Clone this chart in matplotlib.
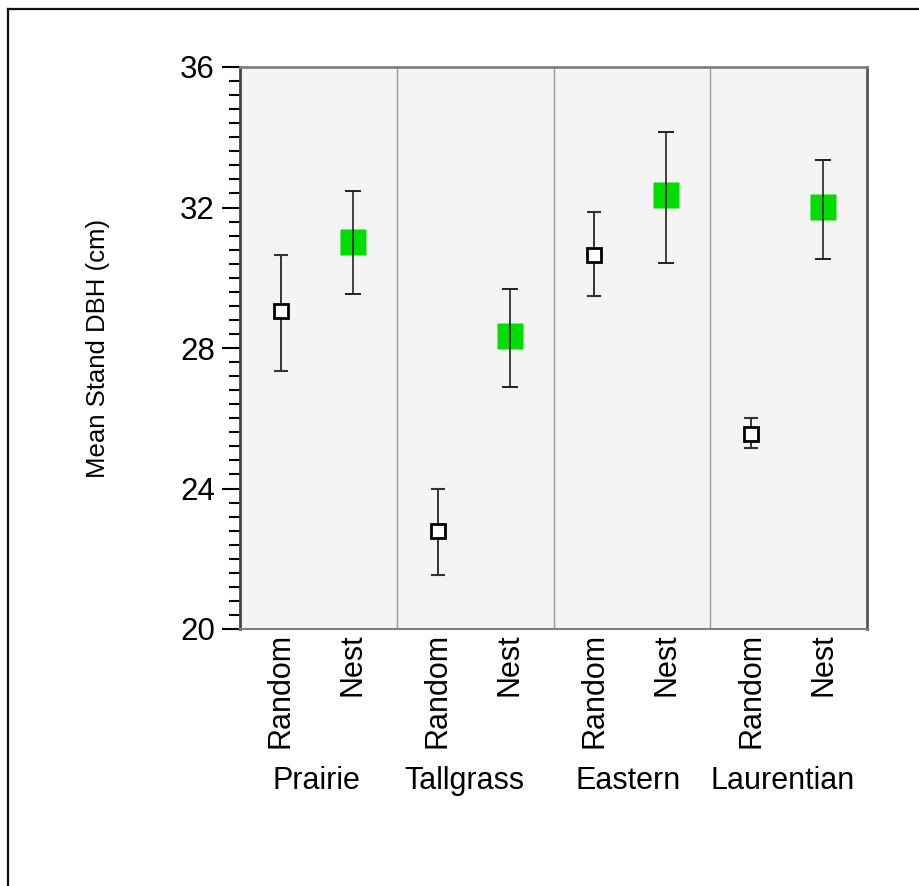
import matplotlib
matplotlib.use("Agg")
import matplotlib.pyplot as plt
from matplotlib.lines import Line2D
from matplotlib.ticker import MultipleLocator

plt.rcParams['font.family'] = ['Liberation Sans', 'DejaVu Sans']

regions = ["Prairie", "Tallgrass", "Eastern", "Laurentian"]
sample_types = ["Random", "Nest"]
random_mean = [29.05, 22.79, 30.65, 25.55]
random_upper = [30.65, 23.99, 31.87, 26.01]
random_lower = [27.35, 21.54, 29.48, 25.15]
nest_mean = [31.02, 28.34, 32.36, 32.01]
nest_upper = [32.47, 29.68, 34.15, 33.35]
nest_lower = [29.54, 26.89, 30.42, 30.53]

W, H = 919, 886
fig = plt.figure(figsize=(W / 100, H / 100), dpi=100)
ax = fig.add_axes([240 / W, 1 - 629 / H, (867 - 240) / W, (629 - 67) / H])
ax.set_facecolor("#f4f4f4")

x_rand = [i + 0.26 for i in range(4)]
x_nest = [i + 0.72 for i in range(4)]

# separators
for s in [1, 2, 3]:
    ax.axvline(s, color="#999999", lw=1, zorder=1)

# Random: error bars behind open markers
r_err = [[m - lo for m, lo in zip(random_mean, random_lower)],
         [hi - m for m, hi in zip(random_mean, random_upper)]]
ax.errorbar(x_rand, random_mean, yerr=r_err, fmt="none", ecolor="#333333",
            elinewidth=1.4, capsize=5, capthick=1.5, zorder=2)
ax.plot(x_rand, random_mean, ls="none", marker="s", ms=9.5, mfc="white",
        mec="black", mew=2, zorder=3)

# Nest: filled markers beneath error bars
n_err = [[m - lo for m, lo in zip(nest_mean, nest_lower)],
         [hi - m for m, hi in zip(nest_mean, nest_upper)]]
ax.plot(x_nest, nest_mean, ls="none", marker="s", ms=19, mfc="#00dd00",
        mec="none", zorder=3)
ax.errorbar(x_nest, nest_mean, yerr=n_err, fmt="none", ecolor="#111111",
            elinewidth=1.1, capsize=5.5, capthick=1.3, zorder=4)

ax.set_xlim(0, 4)
ax.set_ylim(20, 36)
ax.yaxis.set_major_locator(MultipleLocator(4))
ax.yaxis.set_minor_locator(MultipleLocator(0.4))
ax.tick_params(axis="y", which="major", length=13, width=1.5, labelsize=22.5,
               pad=5, color="black")
ax.tick_params(axis="y", which="minor", length=8, width=1.5, color="black")

ax.set_xticks(x_rand + x_nest)
ax.set_xticklabels(["Random"] * 4 + ["Nest"] * 4, rotation=90, fontsize=22,
                   va="top")
ax.tick_params(axis="x", length=0, pad=3)

ax.spines["left"].set_color("#444444")
ax.spines["left"].set_linewidth(2)
ax.spines["top"].set_color("#808080")
ax.spines["top"].set_linewidth(2)
ax.spines["right"].set_color("#555555")
ax.spines["right"].set_linewidth(2)
ax.spines["bottom"].set_color("#808080")
ax.spines["bottom"].set_linewidth(1.5)

ax.set_ylabel("Mean Stand DBH (cm)", fontsize=18.5)
ax.yaxis.set_label_coords((110 - 240) / (867 - 240), 0.5)

group_label_px = [316, 464, 628, 783]
for r, px in zip(regions, group_label_px):
    fig.text(px / W, 1 - 781 / H, r, ha="center", va="center", fontsize=22)

# outer frame (top and left edges visible)
fig.add_artist(Line2D([8 / W, 1.0], [1 - 9 / H, 1 - 9 / H], color="#111111",
                      lw=1.6, transform=fig.transFigure))
fig.add_artist(Line2D([8 / W, 8 / W], [0.0, 1 - 9 / H], color="#111111",
                      lw=1.6, transform=fig.transFigure))

fig.savefig("out.png", dpi=100)
